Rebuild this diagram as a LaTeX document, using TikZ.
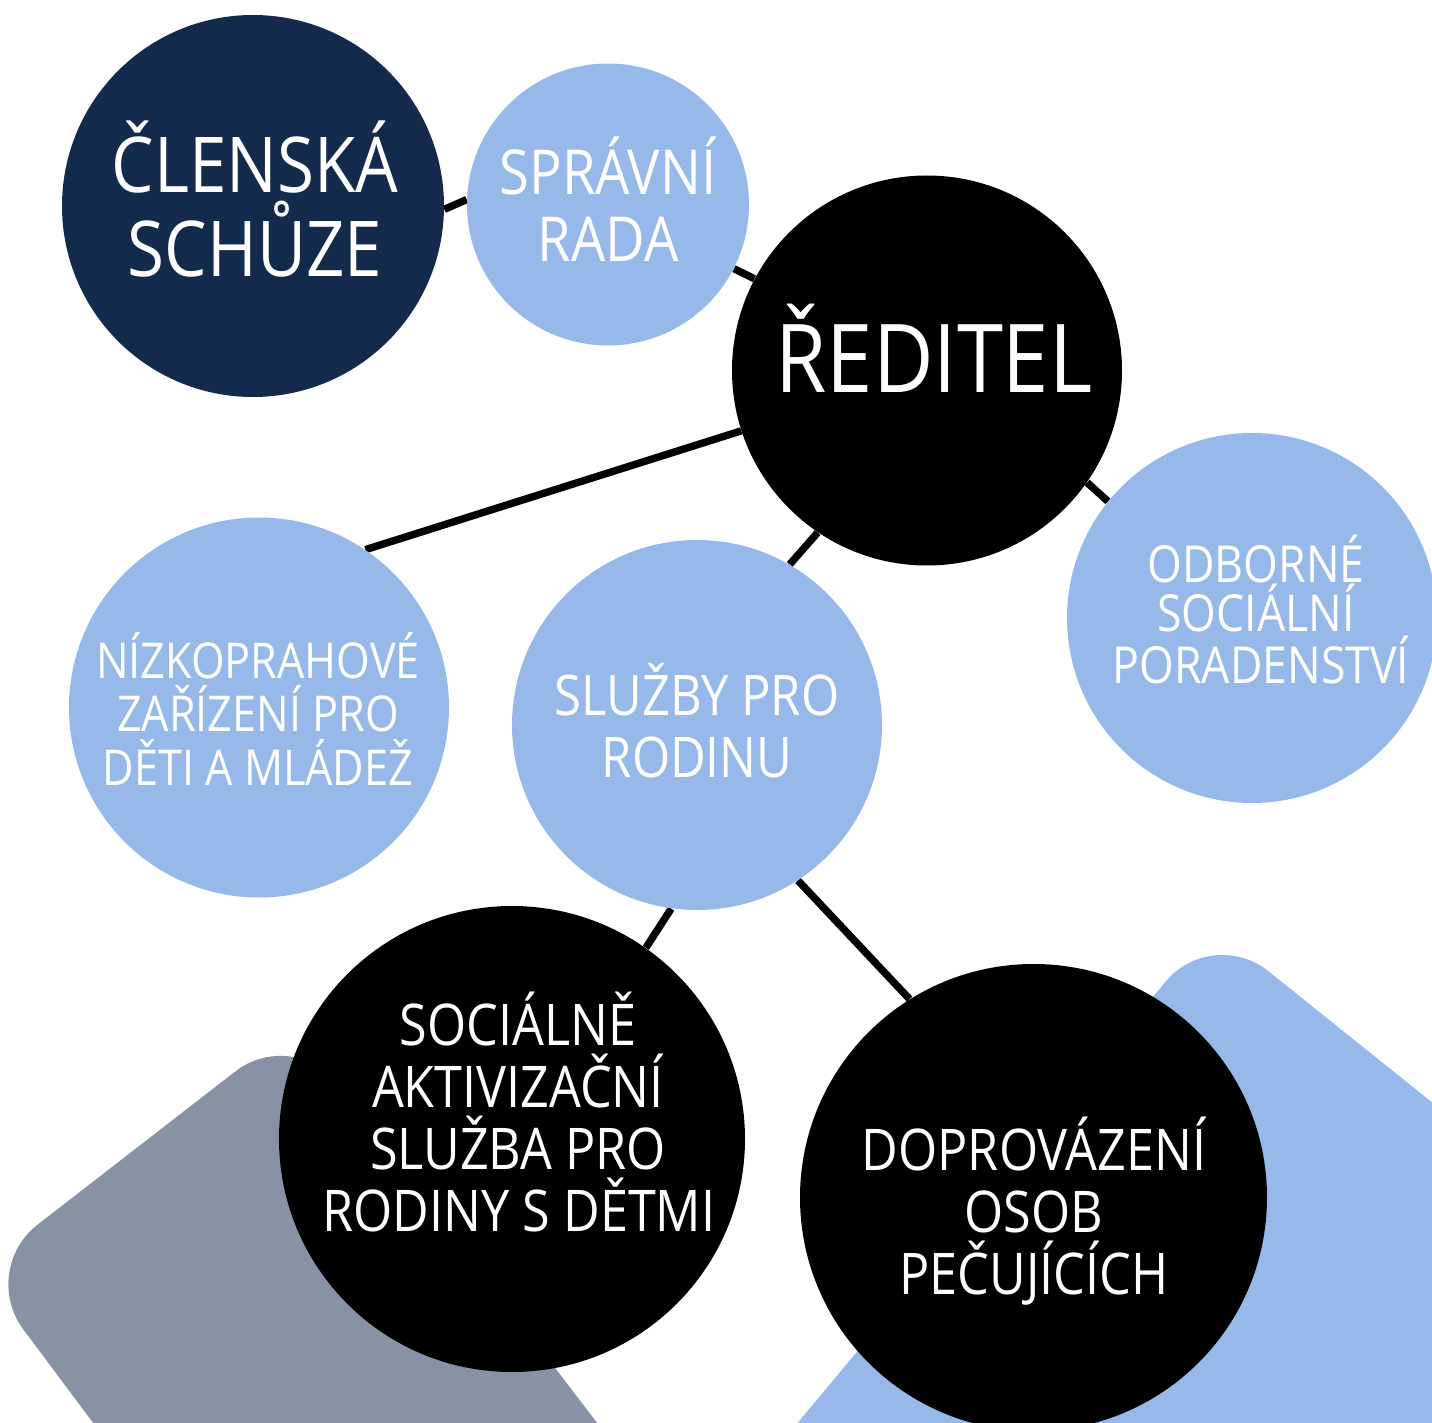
\documentclass[tikz,border=0pt]{standalone}
\usepackage{fontspec}
\setmainfont{Open Sans}[FakeStretch=0.875]
\usetikzlibrary{backgrounds}
\definecolor{navy}{RGB}{20,42,77}
\definecolor{lblue}{RGB}{151,185,233}
\definecolor{slate}{RGB}{135,147,164}
\begin{document}
\begin{tikzpicture}[x=0.5pt,y=-0.5pt,
  bubble/.style={circle, inner sep=0pt, minimum size=#1},
  link/.style={line width=3.7pt, draw=black},
  txt/.style={text=white, anchor=base, inner sep=0pt},
  fA/.style={font=\fontsize{38.5pt}{42pt}\selectfont},
  fB/.style={font=\fontsize{31pt}{34pt}\selectfont},
  fC/.style={font=\fontsize{47.5pt}{52pt}\selectfont},
  fD/.style={font=\fontsize{25.5pt}{28pt}\selectfont},
  fE/.style={font=\fontsize{24.7pt}{28pt}\selectfont},
  fF/.style={font=\fontsize{28pt}{31pt}\selectfont},
  fG/.style={font=\fontsize{28.75pt}{31pt}\selectfont}]
\useasboundingbox (0,0) rectangle (1432,1423);

% circles
\node[bubble=191pt, fill=navy]   (cs)  at (253,206) {};
\node[bubble=141pt, fill=lblue]  (sr)  at (608,204.5) {};
\node[bubble=195pt, fill=black]  (red) at (927,370.5) {};
\node[bubble=185pt, fill=lblue]  (osp) at (1252,618) {};
\node[bubble=190pt, fill=lblue]  (nzd) at (259,707.5) {};
\node[bubble=185pt, fill=lblue]  (spr) at (697,725) {};
\node[bubble=233pt, fill=black]  (sas) at (512,1139) {};
\node[bubble=233.5pt, fill=black] (dop) at (1033.5,1197.5) {};

\begin{scope}[on background layer]
  \clip (0,0) rectangle (1432,1423);
  \fill[slate, rounded corners=37pt] (300,1700) -- (-21,1270) -- (294,1026) -- (688,1542) -- cycle;
  \fill[lblue, rounded corners=36pt] (715,1522) -- (1212,926) -- (1524,1176) -- (1800,1700) -- cycle;
  \draw[link] (cs.-1) -- (sr.178);
  \draw[link] (sr.-27) -- (red.152);
  \draw[link] (red.198) -- (nzd.56);
  \draw[link] (red.236) -- (spr.60);
  \draw[link] (red.-35) -- (osp.141);
  \draw[link] (spr.262) -- (sas.55);
  \draw[link] (spr.-57) -- (dop.122);
\end{scope}

% texts
\node[txt, fA] (cs1) at (255,193) {ČLENSKÁ};
\node[txt, fA] (cs2) at (255,277) {SCHŮZE};
\node[txt, fB] (sr1) at (608,195) {SPRÁVNÍ};
\node[txt, fB] (sr2) at (608,262) {RADA};
\node[txt, fC] (red1) at (934,393) {ŘEDITEL};
\node[txt, fD] (osp1) at (1256,582) {ODBORNÉ};
\node[txt, fD] (osp2) at (1256,632) {SOCIÁLNÍ};
\node[txt, fD] (osp3) at (1261,683) {PORADENSTVÍ};
\node[txt, fE] (nzd1) at (258,678) {NÍZKOPRAHOVÉ};
\node[txt, fE] (nzd2) at (258,732) {ZAŘÍZENÍ PRO};
\node[txt, fE] (nzd3) at (258,785) {DĚTI A MLÁDEŽ};
\node[txt, fF] (spr1) at (697,715) {SLUŽBY PRO};
\node[txt, fF] (spr2) at (697,777) {RODINU};
\node[txt, fG] (sas1) at (518,1045) {SOCIÁLNĚ};
\node[txt, fG] (sas2) at (518,1107) {AKTIVIZAČNÍ};
\node[txt, fG] (sas3) at (518,1169) {SLUŽBA PRO};
\node[txt, fG] (sas4) at (519,1231) {RODINY S DĚTMI};
\node[txt, fG] (dop1) at (1034,1170) {DOPROVÁZENÍ};
\node[txt, fG] (dop2) at (1034,1232) {OSOB};
\node[txt, fG] (dop3) at (1034,1294) {PEČUJÍCÍCH};
\end{tikzpicture}
\end{document}
